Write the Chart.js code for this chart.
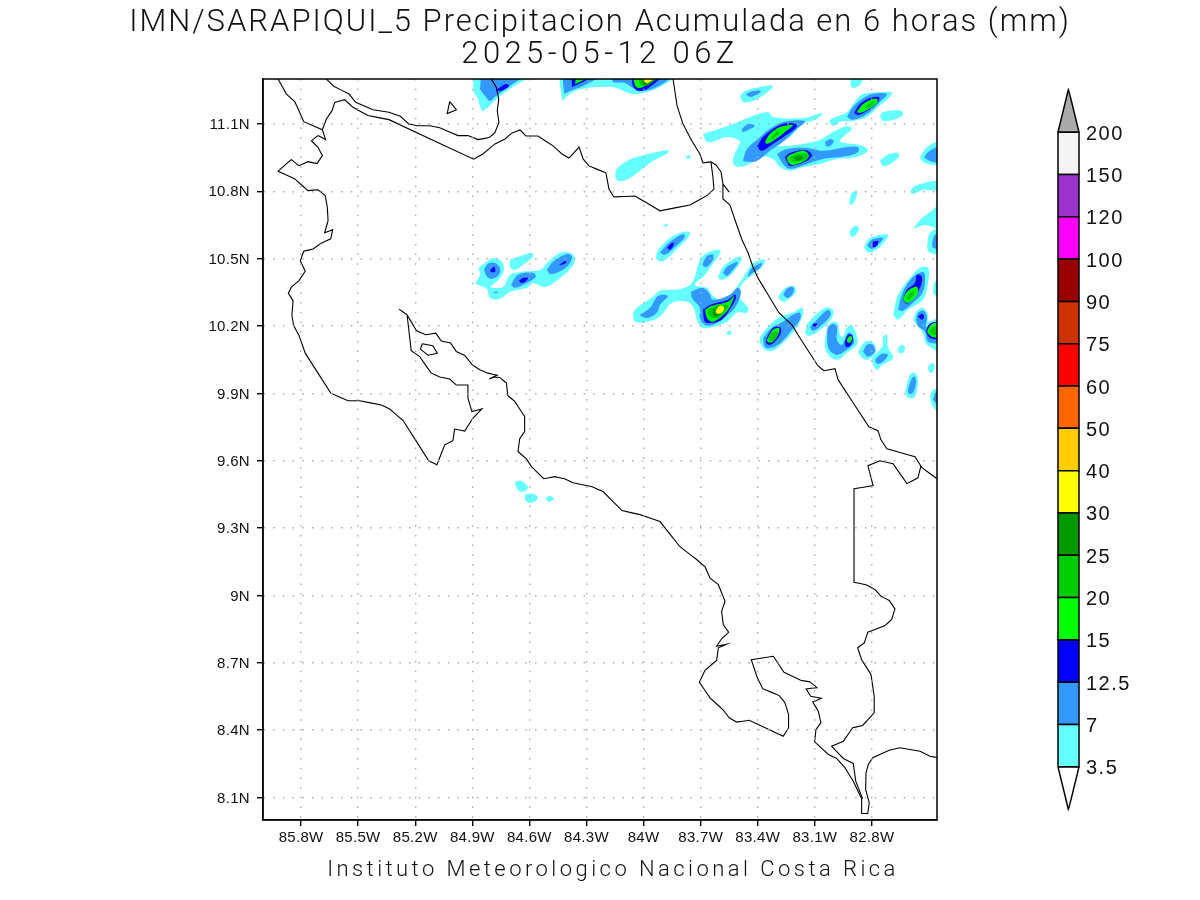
<!DOCTYPE html>
<html>
<head>
<meta charset="utf-8">
<title>IMN/SARAPIQUI_5</title>
<script src="https://cdn.jsdelivr.net/npm/chart.js@4/dist/chart.umd.min.js"></script>
<style>
  html, body { margin: 0; padding: 0; background: #fff; }
  #page { position: relative; width: 1200px; height: 900px; overflow: hidden; }
  canvas { position: absolute; }
  .label { position: absolute; left: 0; width: 1200px; text-align: center; white-space: pre; color: #111;
           font-family: Roboto, "Liberation Sans", sans-serif; font-weight: 300; }
  #title1 { top: 2px; font-size: 31px; letter-spacing: 2px; }
  #title2 { top: 34px; font-size: 31px; letter-spacing: 4.4px; }
  #footer { top: 856px; left: 13px; font-size: 22px; letter-spacing: 3.45px; }
</style>
</head>
<body>
<div id="page">
  <canvas id="mapChart" width="1200" height="900" style="left:0;top:0"></canvas>
  <canvas id="barChart" width="150" height="760" style="left:1000px;top:70px"></canvas>
  <div class="label" id="title1">IMN/SARAPIQUI_5 Precipitacion Acumulada en 6 horas (mm)</div>
  <div class="label" id="title2">2025-05-12 06Z</div>
  <div class="label" id="footer">Instituto Meteorologico Nacional Costa Rica</div>
</div>
<script>
// Ejes
const lonTicks = [85.8, 85.5, 85.2, 84.9, 84.6, 84.3, 84, 83.7, 83.4, 83.1, 82.8];
const latTicks = [11.1, 10.8, 10.5, 10.2, 9.9, 9.6, 9.3, 9, 8.7, 8.4, 8.1];

// Barra de colores
const barLevels = ['3.5', '7', '12.5', '15', '20', '25', '30', '40', '50', '60', '75', '90', '100', '120', '150', '200'];
const barColors = ['#66ffff', '#3399ff', '#0000ff', '#00ff00', '#00cc00', '#009900', '#ffff00', '#ffcc00',
                   '#ff6600', '#ff0000', '#cc3300', '#990000', '#ff00ff', '#9933cc', '#f5f5f5'];

// Costas y fronteras [lon W, lat N]
const pacificCoast = [[85.921,11.3],[85.877,11.233],[85.833,11.199],[85.811,11.159],[85.786,11.11],[85.688,11.074],[85.671,11.03],
  [85.711,11.048],[85.746,11.025],[85.711,10.996],[85.688,10.959],[85.716,10.923],[85.764,10.932],[85.812,10.914],[85.851,10.941],
  [85.921,10.889],[85.833,10.855],[85.764,10.803],[85.711,10.807],[85.673,10.781],[85.662,10.729],[85.658,10.669],[85.676,10.615],
  [85.634,10.629],[85.644,10.588],[85.694,10.569],[85.737,10.543],[85.786,10.533],[85.804,10.491],[85.778,10.444],[85.811,10.402],
  [85.851,10.373],[85.867,10.346],[85.842,10.313],[85.848,10.247],[85.839,10.202],[85.811,10.158],[85.778,10.079],[85.644,9.901],
  [85.553,9.867],[85.492,9.867],[85.378,9.848],[85.334,9.83],[85.264,9.779],[85.129,9.6],[85.086,9.582],[85.045,9.671],[85.002,9.689],
  [84.993,9.741],[84.94,9.732],[84.896,9.79],[84.849,9.831],[84.902,9.819],[84.923,9.879],[84.923,9.937],[84.984,9.937],[85.019,9.964],
  [85.071,9.973],[85.116,9.99],[85.177,10.064],[85.221,10.09],[85.243,10.25],[85.285,10.275],[85.243,10.25],[85.194,10.18],[85.145,10.161],
  [85.092,10.168],[85.063,10.133],[85.014,10.124],[84.984,10.086],[84.94,10.069],[84.9,10.027],[84.861,10.005],[84.818,9.99],[84.769,9.981],
  [84.812,9.964],[84.782,9.973],[84.756,9.971],[84.721,9.946],[84.713,9.89],[84.677,9.864],[84.625,9.797],[84.625,9.73],[84.651,9.698],
  [84.66,9.641],[84.616,9.608],[84.59,9.575],[84.525,9.52],[84.467,9.529],[84.415,9.52],[84.371,9.502],[84.27,9.484],[84.213,9.463],
  [84.113,9.378],[84.019,9.36],[83.914,9.329],[83.809,9.217],[83.721,9.16],[83.677,9.127],[83.651,9.078],[83.607,9.048],[83.572,8.974],
  [83.59,8.929],[83.581,8.87],[83.553,8.836],[83.59,8.807],[83.616,8.774],[83.563,8.783],[83.607,8.767],[83.616,8.711],[83.677,8.667],
  [83.707,8.614],[83.651,8.544],[83.581,8.489],[83.55,8.455],[83.511,8.436],[83.445,8.444],[83.266,8.373],[83.238,8.411],[83.238,8.47],
  [83.257,8.522],[83.287,8.554],[83.374,8.585],[83.402,8.633],[83.434,8.714],[83.318,8.729],[83.262,8.658],[83.174,8.622],[83.125,8.615],
  [83.087,8.589],[83.146,8.584],[83.122,8.551],[83.066,8.542],[83.111,8.525],[83.082,8.485],[83.068,8.433],[83.094,8.403],[83.101,8.348],
  [83.029,8.292],[82.985,8.274],[82.942,8.233],[82.898,8.173],[82.854,8.095],[82.854,8.029],[82.822,8.029],[82.814,8.077],[82.833,8.136],
  [82.831,8.21],[82.819,8.247],[82.796,8.277],[82.709,8.311],[82.653,8.322],[82.547,8.306],[82.495,8.284],[82.458,8.278]];
const panamaBorder = [[82.849,8.095],[82.885,8.173],[82.898,8.252],[82.95,8.274],[83.012,8.329],[82.95,8.351],[82.901,8.411],[82.849,8.421],
  [82.788,8.477],[82.788,8.551],[82.805,8.648],[82.854,8.714],[82.875,8.767],[82.84,8.789],[82.822,8.836],[82.731,8.866],[82.696,8.893],
  [82.679,8.94],[82.709,8.978],[82.752,8.996],[82.784,9.026],[82.828,9.047],[82.894,9.059],[82.894,9.475],[82.794,9.489],[82.821,9.578],
  [82.758,9.6],[82.689,9.587],[82.616,9.498],[82.558,9.524],[82.542,9.578]];
const caribbeanCoast = [[83.845,11.3],[83.824,11.18],[83.793,11.1],[83.746,11.024],[83.704,10.966],[83.688,10.926],[83.646,10.931],[83.619,10.917],
  [83.593,10.886],[83.583,10.833],[83.551,10.797],[83.583,10.833],[83.583,10.766],[83.546,10.739],[83.52,10.673],[83.483,10.584],[83.451,10.526],
  [83.425,10.463],[83.399,10.414],[83.352,10.348],[83.289,10.259],[83.22,10.205],[83.189,10.161],[83.084,10.023],[83.052,10.001],[82.994,10.01],
  [82.978,9.961],[82.816,9.751],[82.768,9.734],[82.753,9.694],[82.721,9.653],[82.574,9.618],[82.537,9.569],[82.458,9.52]];
const northBorder = [[83.646,10.931],[83.635,10.859],[83.63,10.81],[83.662,10.784],[83.756,10.739],[83.914,10.713],[83.993,10.753],[84.045,10.779],
  [84.156,10.775],[84.182,10.81],[84.198,10.882],[84.287,10.913],[84.318,10.944],[84.339,10.997],[84.392,10.948],[84.429,10.966],[84.476,11.002],
  [84.555,11.046],[84.618,11.046],[84.649,11.073],[84.691,11.06],[84.728,11.033],[84.781,11.011],[84.844,10.966],[84.893,10.943],[85.338,11.119],
  [85.448,11.137],[85.527,11.174],[85.571,11.208],[85.623,11.196],[85.637,11.159],[85.667,11.122],[85.688,11.074]];
const lakeShore = [[85.667,11.3],[85.628,11.268],[85.548,11.233],[85.513,11.196],[85.422,11.163],[85.338,11.152],[85.278,11.134],[85.234,11.1],
  [85.191,11.092],[85.124,11.092],[85.071,11.083],[84.975,11.048],[84.923,11.048],[84.87,11.03],[84.812,11.039],[84.782,11.06],[84.76,11.107],
  [84.769,11.159],[84.761,11.211],[84.774,11.263],[84.8,11.3]];
const lakeIsland = [[85.019,11.199],[84.984,11.163],[85.032,11.146],[85.019,11.199]];
const gulfIsland = [[85.163,10.121],[85.107,10.112],[85.084,10.079],[85.133,10.07],[85.173,10.097],[85.163,10.121]];
const coastLines = [pacificCoast, panamaBorder, caribbeanCoast, northBorder, lakeShore, lakeIsland, gulfIsland];

// Contornos de precipitacion por nivel [lon W, lat N]
const contour35 = [
  [[84.896,11.247],[84.881,11.31],[84.607,11.31],[84.67,11.273],[84.755,11.224],[84.844,11.158],[84.86,11.18],[84.87,11.211]],
  [[84.429,11.202],[84.423,11.31],[83.845,11.31],[83.914,11.264],[83.982,11.242],[84.056,11.233],[84.161,11.264],[84.229,11.264],[84.297,11.26],[84.371,11.242]],
  [[84.15,10.868],[84.14,10.9],[84.087,10.935],[84.019,10.957],[83.872,10.984],[83.872,10.971],[83.951,10.935],[84.019,10.891],[84.087,10.851],[84.134,10.846]],
  [[83.777,10.957],[83.756,10.962],[83.756,10.948],[83.772,10.944]],
  [[83.493,11.224],[83.467,11.247],[83.362,11.269],[83.32,11.269],[83.362,11.233],[83.425,11.202],[83.478,11.198]],
  [[83.688,11.055],[83.635,11.069],[83.53,11.1],[83.441,11.131],[83.346,11.153],[83.32,11.131],[83.162,11.126],[83.062,11.149],[83.089,11.122],[83.162,11.1],[83.231,11.042],[83.299,11.002],
   [83.089,11.024],[83.005,11.064],[82.931,11.091],[82.905,11.078],[82.952,11.042],[82.968,11.02],[82.847,11.002],[82.821,10.98],[82.879,10.953],[82.984,10.944],[83.073,10.922],[83.162,10.908],
   [83.231,10.891],[83.283,10.908],[83.32,10.944],[83.378,10.953],[83.467,10.913],[83.52,10.913],[83.53,10.944],[83.504,10.997],[83.493,11.024],[83.562,11.042],[83.625,11.024],[83.667,11.02]],
  [[83.026,11.113],[83.005,11.126],[82.931,11.153],[82.879,11.211],[82.847,11.233],[82.695,11.242],[82.705,11.22],[82.768,11.175],[82.826,11.131],[82.9,11.113],[82.968,11.109],[83.005,11.091]],
  [[82.758,11.135],[82.742,11.153],[82.642,11.158],[82.642,11.135],[82.689,11.118],[82.742,11.113]],
  [[82.915,11.278],[82.9,11.31],[82.847,11.31],[82.863,11.273],[82.9,11.26]],
  [[82.758,10.935],[82.721,10.962],[82.663,10.971],[82.658,10.953],[82.705,10.922],[82.742,10.913]],
  [[82.547,10.953],[82.511,10.997],[82.44,11.02],[82.44,10.922],[82.505,10.922],[82.537,10.935]],
  [[82.6,10.797],[82.574,10.824],[82.44,10.846],[82.44,10.806],[82.532,10.806],[82.584,10.788]],
  [[82.92,10.744],[82.905,10.793],[82.879,10.797],[82.884,10.77],[82.905,10.739]],
  [[83.903,10.641],[83.877,10.655],[83.872,10.646]],
  [[83.935,10.503],[83.924,10.539],[83.861,10.592],[83.793,10.619],[83.756,10.615],[83.767,10.592],[83.819,10.548],[83.877,10.499],[83.914,10.486]],
  [[84.056,10.259],[84.035,10.281],[83.951,10.33],[83.914,10.357],[83.809,10.365],[83.746,10.392],[83.704,10.495],[83.667,10.526],[83.598,10.539],[83.609,10.508],[83.641,10.472],[83.677,10.428],
   [83.73,10.383],[83.667,10.37],[83.641,10.339],[83.598,10.317],[83.546,10.339],[83.478,10.414],[83.425,10.481],[83.362,10.495],[83.378,10.463],[83.425,10.428],[83.478,10.392],[83.504,10.339],
   [83.451,10.281],[83.457,10.259],[83.509,10.259],[83.562,10.219],[83.635,10.196],[83.693,10.192],[83.714,10.214],[83.74,10.285],[83.772,10.308],[83.851,10.303],[83.914,10.241],[83.982,10.219],[84.045,10.219]],
  [[83.609,10.419],[83.583,10.463],[83.504,10.508],[83.483,10.503],[83.509,10.459],[83.562,10.414],[83.598,10.406]],
  [[83.562,10.174],[83.541,10.179],[83.541,10.161],[83.562,10.161]],
  [[82.92,10.619],[82.889,10.646],[82.868,10.637],[82.884,10.606],[82.905,10.597]],
  [[82.842,10.552],[82.81,10.592],[82.716,10.606],[82.747,10.561],[82.8,10.53],[82.826,10.53]],
  [[83.294,10.325],[83.267,10.361],[83.215,10.379],[83.199,10.352],[83.241,10.317],[83.267,10.308]],
  [[83.388,10.152],[83.346,10.196],[83.283,10.241],[83.215,10.259],[83.168,10.281],[83.162,10.25],[83.204,10.183],[83.267,10.125],[83.32,10.09],[83.362,10.094],[83.388,10.125]],
  [[83.152,10.17],[83.136,10.214],[83.047,10.281],[83.005,10.272],[83.01,10.236],[83.084,10.174],[83.136,10.156]],
  [[83.047,10.139],[83.031,10.196],[83.005,10.219],[82.978,10.21],[82.968,10.161],[82.952,10.152],[82.931,10.192],[82.905,10.205],[82.879,10.152],[82.879,10.116],[82.931,10.081],[82.978,10.05],[83.02,10.063],[83.047,10.103]],
  [[82.873,10.085],[82.836,10.13],[82.795,10.125],[82.779,10.085],[82.821,10.05],[82.852,10.058]],
  [[82.8,10.058],[82.768,10.085],[82.742,10.116],[82.742,10.152],[82.721,10.161],[82.716,10.107],[82.689,10.058],[82.747,10.027],[82.773,10.005],[82.795,10.027]],
  [[82.663,10.103],[82.642,10.116],[82.626,10.103],[82.637,10.081],[82.658,10.081]],
  [[82.505,10.018],[82.484,10.036],[82.469,10.018],[82.484,9.992],[82.5,9.996]],
  [[82.626,9.907],[82.6,9.983],[82.574,9.992],[82.558,9.961],[82.574,9.885],[82.611,9.88]],
  [[82.689,10.25],[82.663,10.339],[82.6,10.414],[82.547,10.459],[82.505,10.459],[82.505,10.392],[82.532,10.317],[82.611,10.272],[82.663,10.228]],
  [[82.584,10.228],[82.563,10.268],[82.532,10.281],[82.505,10.25],[82.505,10.219],[82.44,10.236],[82.44,10.094],[82.511,10.116],[82.532,10.17],[82.558,10.196]],
  [[82.584,10.632],[82.547,10.673],[82.495,10.708],[82.44,10.739],[82.44,10.637],[82.521,10.65]],
  [[82.511,10.552],[82.495,10.615],[82.44,10.637],[82.44,10.526],[82.495,10.526]],
  [[82.479,10.352],[82.469,10.397],[82.44,10.406],[82.44,10.33],[82.474,10.339]],
  [[82.495,9.885],[82.479,9.916],[82.44,9.916],[82.44,9.814],[82.479,9.84]],
  [[82.463,9.729],[82.44,9.76],[82.44,9.702]],
  [[84.886,10.388],[84.86,10.428],[84.865,10.459],[84.833,10.481],[84.791,10.503],[84.744,10.486],[84.734,10.45],[84.755,10.414],[84.781,10.392],[84.807,10.374],[84.739,10.374],[84.702,10.428],
   [84.649,10.441],[84.544,10.45],[84.502,10.486],[84.439,10.526],[84.387,10.526],[84.36,10.503],[84.376,10.463],[84.439,10.414],[84.518,10.374],[84.581,10.392],[84.613,10.37],[84.702,10.352],
   [84.755,10.321],[84.807,10.325],[84.823,10.365],[84.87,10.383]],
  [[84.702,10.495],[84.676,10.503],[84.586,10.526],[84.581,10.508],[84.634,10.472],[84.676,10.45],[84.702,10.463]],
  [[84.676,9.507],[84.644,9.511],[84.607,9.484],[84.618,9.467],[84.649,9.462],[84.67,9.484]],
  [[84.623,9.449],[84.581,9.453],[84.555,9.435],[84.571,9.418],[84.607,9.413],[84.623,9.427]],
  [[84.513,9.435],[84.492,9.444],[84.471,9.431],[84.492,9.418],[84.508,9.422]]
];
const contour7 = [
  [[84.86,11.256],[84.844,11.31],[84.644,11.31],[84.702,11.269],[84.776,11.224],[84.807,11.202],[84.833,11.224]],
  [[84.418,11.233],[84.413,11.31],[84.24,11.31],[84.318,11.269],[84.387,11.247]],
  [[84.161,11.31],[83.861,11.31],[83.93,11.264],[84.003,11.247],[84.056,11.26],[84.098,11.282],[84.161,11.287]],
  [[83.462,11.233],[83.425,11.247],[83.383,11.247],[83.399,11.233],[83.441,11.22]],
  [[83.478,10.935],[83.457,10.988],[83.399,11.033],[83.336,11.078],[83.267,11.109],[83.152,11.113],[83.194,11.078],[83.267,11.02],[83.336,10.98],[83.404,10.935],[83.451,10.931]],
  [[83.299,10.966],[83.246,10.988],[83.141,10.993],[83.057,10.98],[82.931,10.997],[82.873,10.997],[82.873,10.975],[82.931,10.957],[83.057,10.944],[83.141,10.922],[83.231,10.9],[83.267,10.922]],
  [[83.047,11.02],[83.02,11.033],[83.0,11.024],[83.02,11.002],[83.041,11.002]],
  [[83.483,11.078],[83.451,11.1],[83.415,11.091],[83.451,11.073],[83.478,11.064]],
  [[82.931,11.131],[82.9,11.175],[82.852,11.211],[82.8,11.233],[82.721,11.233],[82.758,11.198],[82.826,11.144],[82.9,11.118]],
  [[82.526,10.953],[82.495,10.98],[82.44,10.997],[82.44,10.931],[82.495,10.935]],
  [[83.914,10.526],[83.861,10.575],[83.793,10.61],[83.782,10.597],[83.835,10.552],[83.888,10.517]],
  [[83.583,10.437],[83.562,10.463],[83.509,10.486],[83.504,10.481],[83.53,10.45],[83.562,10.423]],
  [[83.688,10.481],[83.667,10.512],[83.635,10.517],[83.635,10.495],[83.667,10.463],[83.688,10.468]],
  [[84.019,10.25],[83.966,10.281],[83.924,10.334],[83.872,10.334],[83.914,10.294],[83.93,10.259],[83.977,10.236],[84.008,10.241]],
  [[83.751,10.352],[83.693,10.37],[83.656,10.348],[83.635,10.317],[83.546,10.339],[83.504,10.37],[83.488,10.348],[83.52,10.281],[83.572,10.241],[83.635,10.205],[83.677,10.205],[83.704,10.236],[83.704,10.281],[83.746,10.325]],
  [[83.451,10.428],[83.43,10.459],[83.378,10.481],[83.388,10.459],[83.425,10.437],[83.451,10.419]],
  [[82.826,10.557],[82.8,10.584],[82.742,10.592],[82.768,10.561],[82.8,10.543]],
  [[83.267,10.339],[83.241,10.37],[83.21,10.37],[83.22,10.339],[83.246,10.325]],
  [[83.372,10.147],[83.325,10.192],[83.267,10.219],[83.215,10.25],[83.178,10.259],[83.178,10.228],[83.22,10.183],[83.273,10.13],[83.325,10.103],[83.362,10.107]],
  [[83.125,10.196],[83.089,10.228],[83.031,10.272],[83.016,10.25],[83.063,10.205],[83.11,10.179]],
  [[83.036,10.147],[83.031,10.192],[83.005,10.21],[82.984,10.196],[82.984,10.139],[82.958,10.116],[82.931,10.161],[82.915,10.17],[82.894,10.139],[82.9,10.116],[82.947,10.085],[82.978,10.072],[83.01,10.081],[83.031,10.107]],
  [[82.847,10.085],[82.826,10.116],[82.795,10.116],[82.784,10.085],[82.821,10.063]],
  [[82.784,10.05],[82.747,10.076],[82.716,10.072],[82.742,10.041],[82.773,10.032]],
  [[82.611,9.916],[82.589,9.969],[82.574,9.974],[82.568,9.947],[82.584,9.903],[82.605,9.898]],
  [[82.663,10.272],[82.637,10.352],[82.584,10.419],[82.537,10.441],[82.521,10.428],[82.532,10.352],[82.584,10.303],[82.637,10.268]],
  [[82.568,10.228],[82.558,10.259],[82.526,10.268],[82.511,10.237],[82.516,10.196],[82.484,10.214],[82.44,10.219],[82.44,10.13],[82.505,10.13],[82.521,10.174],[82.558,10.201]],
  [[82.484,10.57],[82.469,10.606],[82.44,10.606],[82.44,10.548],[82.479,10.548]],
  [[82.479,9.872],[82.463,9.907],[82.44,9.907],[82.44,9.836]],
  [[84.839,10.45],[84.818,10.477],[84.781,10.481],[84.755,10.459],[84.76,10.428],[84.797,10.41],[84.823,10.419]],
  [[84.697,10.383],[84.66,10.428],[84.581,10.437],[84.566,10.419],[84.613,10.392],[84.676,10.37]],
  [[84.508,10.45],[84.476,10.486],[84.402,10.521],[84.376,10.508],[84.397,10.468],[84.455,10.437],[84.492,10.432]],
  [[84.786,10.352],[84.765,10.352],[84.765,10.348],[84.786,10.348]]
];
const contour125 = [
  [[84.776,11.251],[84.723,11.278],[84.707,11.269],[84.749,11.247]],
  [[84.376,11.264],[84.371,11.31],[84.261,11.31],[84.318,11.287]],
  [[84.061,11.31],[83.914,11.31],[83.982,11.256],[84.029,11.247],[84.056,11.269]],
  [[83.404,10.997],[83.372,11.042],[83.294,11.091],[83.231,11.104],[83.194,11.091],[83.257,11.046],[83.336,11.002],[83.378,10.98]],
  [[83.257,10.953],[83.231,10.971],[83.152,10.984],[83.115,10.962],[83.152,10.931],[83.231,10.913],[83.246,10.931]],
  [[82.894,11.149],[82.863,11.189],[82.81,11.215],[82.763,11.22],[82.768,11.198],[82.826,11.158],[82.873,11.14]],
  [[83.877,10.548],[83.851,10.57],[83.84,10.566],[83.861,10.539]],
  [[83.688,10.272],[83.651,10.294],[83.556,10.317],[83.52,10.339],[83.514,10.325],[83.546,10.276],[83.588,10.228],[83.641,10.214],[83.677,10.219]],
  [[82.795,10.575],[82.768,10.579],[82.773,10.557],[82.795,10.552]],
  [[83.352,10.147],[83.32,10.192],[83.283,10.196],[83.278,10.17],[83.31,10.13],[83.336,10.116],[83.357,10.125]],
  [[83.11,10.21],[83.089,10.21],[83.089,10.2],[83.11,10.2]],
  [[82.942,10.13],[82.926,10.161],[82.905,10.161],[82.9,10.139],[82.915,10.112],[82.936,10.107]],
  [[82.637,10.317],[82.616,10.361],[82.574,10.392],[82.563,10.428],[82.537,10.419],[82.547,10.37],[82.584,10.325],[82.616,10.299]],
  [[82.558,10.241],[82.537,10.254],[82.526,10.241],[82.537,10.228]],
  [[82.516,10.174],[82.495,10.21],[82.44,10.214],[82.44,10.147],[82.495,10.147]],
  [[84.807,10.446],[84.791,10.463],[84.781,10.459],[84.781,10.441],[84.802,10.441]],
  [[84.655,10.401],[84.634,10.414],[84.607,10.414],[84.623,10.397],[84.644,10.392]],
  [[84.444,10.472],[84.413,10.49],[84.408,10.481],[84.434,10.472]]
];
const contour15 = [
  [[84.36,11.278],[84.35,11.31],[84.292,11.31],[84.334,11.287]],
  [[84.056,11.31],[83.924,11.31],[83.993,11.269],[84.029,11.26],[84.045,11.273]],
  [[83.362,11.02],[83.336,11.055],[83.283,11.086],[83.215,11.095],[83.257,11.064],[83.32,11.024],[83.352,11.011]],
  [[83.246,10.953],[83.22,10.966],[83.157,10.98],[83.131,10.957],[83.162,10.931],[83.22,10.917],[83.241,10.931]],
  [[82.879,11.153],[82.852,11.184],[82.81,11.207],[82.773,11.211],[82.773,11.193],[82.826,11.162],[82.863,11.149]],
  [[83.677,10.272],[83.641,10.29],[83.556,10.308],[83.525,10.334],[83.53,10.317],[83.556,10.272],[83.598,10.237],[83.641,10.219],[83.667,10.237]],
  [[83.346,10.147],[83.32,10.183],[83.289,10.192],[83.289,10.17],[83.315,10.134],[83.336,10.125],[83.352,10.134]],
  [[82.931,10.139],[82.921,10.152],[82.905,10.152],[82.91,10.13],[82.926,10.125]],
  [[82.637,10.321],[82.611,10.357],[82.563,10.374],[82.563,10.339],[82.6,10.308],[82.621,10.303]],
  [[82.511,10.174],[82.49,10.205],[82.44,10.214],[82.44,10.152],[82.484,10.152]]
];
const contour20 = [
  [[84.029,11.31],[83.93,11.31],[83.982,11.278],[84.014,11.269]],
  [[83.336,11.033],[83.294,11.069],[83.283,11.064],[83.325,11.029]],
  [[83.231,10.953],[83.194,10.966],[83.141,10.966],[83.141,10.944],[83.194,10.931],[83.22,10.931]],
  [[82.836,11.175],[82.81,11.193],[82.784,11.198],[82.8,11.18],[82.826,11.167]],
  [[83.662,10.272],[83.625,10.29],[83.556,10.294],[83.572,10.263],[83.609,10.237],[83.641,10.237],[83.662,10.25]],
  [[83.341,10.152],[83.32,10.174],[83.294,10.174],[83.299,10.152],[83.32,10.134],[83.341,10.134]],
  [[82.621,10.33],[82.6,10.348],[82.579,10.357],[82.584,10.334],[82.611,10.317]],
  [[82.5,10.174],[82.479,10.196],[82.44,10.2],[82.44,10.165],[82.479,10.161]]
];
const contour25 = [
  [[84.014,11.31],[83.935,11.31],[83.975,11.272],[84.0,11.275]],
  [[83.21,10.953],[83.178,10.957],[83.162,10.948],[83.194,10.935]],
  [[83.635,10.276],[83.609,10.285],[83.572,10.285],[83.588,10.259],[83.614,10.241],[83.635,10.25]]
];
const contour30 = [
  [[84.003,11.31],[83.94,11.31],[83.977,11.282],[83.993,11.287]],
  [[83.619,10.272],[83.598,10.29],[83.577,10.285],[83.583,10.263],[83.604,10.254],[83.619,10.259]]
];
const contourLevels = [contour35, contour7, contour125, contour15, contour20, contour25, contour30];

// Convierte lista de pares a puntos de Chart.js
function toPoints(pairs) {
  return pairs.map(p => ({ x: p[0], y: p[1] }));
}

// Contornos rellenos, de menor a mayor nivel
const mapDatasets = [];
contourLevels.forEach((blobs, i) => {
  blobs.forEach(blob => {
    mapDatasets.push({
      data: toPoints(blob.concat([blob[0]])),
      showLine: true, fill: 'shape', backgroundColor: barColors[i],
      borderWidth: 0, pointRadius: 0, tension: 0.35
    });
  });
});
coastLines.forEach(line => {
  mapDatasets.push({
    data: toPoints(line), showLine: true, fill: false, borderColor: '#000',
    borderWidth: 1.1, pointRadius: 0, tension: 0.001
  });
});

// Chart.js dibuja el primer dataset encima, por eso se invierte
mapDatasets.reverse();

const mapFrame = {
  id: 'mapFrame',
  beforeDraw(chart) { chart.ctx.letterSpacing = '0.3px'; },
  afterDraw(chart) {
    const a = chart.chartArea, ctx = chart.ctx;
    ctx.save();
    ctx.strokeStyle = '#000';
    ctx.lineWidth = 1.5;
    ctx.strokeRect(a.left, a.top, a.right - a.left, a.bottom - a.top);
    ctx.restore();
  }
};

new Chart(document.getElementById('mapChart'), {
  type: 'scatter',
  data: { datasets: mapDatasets },
  plugins: [mapFrame],
  options: {
    responsive: false, animation: false, events: [], devicePixelRatio: 1,
    layout: { padding: { top: 79, right: 263 } },
    plugins: { legend: { display: false }, tooltip: { enabled: false }, title: { display: false } },
    scales: {
      x: {
        type: 'linear', reverse: true, min: 82.458, max: 86,
        afterBuildTicks(s) { s.ticks = lonTicks.map(v => ({ value: v })); },
        afterFit(s) { s.height = 80; },
        ticks: { autoSkip: false, maxRotation: 0, padding: 3, color: '#111', font: { family: 'Liberation Sans', size: 15 },
                 callback: v => v + 'W' },
        grid: { color: '#aaa', tickColor: '#000', tickLength: 6, z: 1, lineWidth: 1.4 },
        border: { color: '#000', width: 1.5, dash: [1.5, 8.2], z: 1 }
      },
      y: {
        type: 'linear', min: 8, max: 11.3,
        afterBuildTicks(s) { s.ticks = latTicks.map(v => ({ value: v })); },
        afterFit(s) { s.width = 263; },
        ticks: { autoSkip: false, padding: 7, labelOffset: 1, color: '#111', font: { family: 'Liberation Sans', size: 15 },
                 callback: v => v + 'N' },
        grid: { color: '#aaa', tickColor: '#000', tickLength: 6, z: 1, lineWidth: 1.4 },
        border: { color: '#000', width: 1.5, dash: [1.5, 8.2], z: 1 }
      }
    }
  }
});

// Barra de colores como cajas sobre escala de indices
const barDatasets = barColors.map((color, i) => ({
  data: toPoints([[0, i], [1, i], [1, i + 1], [0, i + 1], [0, i]]),
  showLine: true, fill: 'shape', backgroundColor: color, borderColor: '#000',
  borderWidth: 1.5, pointRadius: 0, tension: 0.001, clip: false
}));
barDatasets.push({
  data: toPoints([[0, 15], [1, 15], [0.5, 16.02], [0, 15]]),
  showLine: true, fill: 'shape', backgroundColor: '#aaaaaa', borderColor: '#000',
  borderWidth: 1.5, pointRadius: 0, tension: 0.001, clip: false
});
barDatasets.push({
  data: toPoints([[0, 0], [1, 0], [0.5, -1.02], [0, 0]]),
  showLine: true, fill: 'shape', backgroundColor: '#ffffff', borderColor: '#000',
  borderWidth: 1.5, pointRadius: 0, tension: 0.001, clip: false
});

new Chart(document.getElementById('barChart'), {
  type: 'scatter',
  data: { datasets: barDatasets },
  plugins: [{ id: 'barSpacing', beforeDraw(chart) { chart.ctx.letterSpacing = '1.5px'; } }],
  options: {
    responsive: false, animation: false, events: [], devicePixelRatio: 1,
    layout: { padding: { left: 58, top: 19, bottom: 20 } },
    plugins: { legend: { display: false }, tooltip: { enabled: false } },
    scales: {
      x: { type: 'linear', min: 0, max: 1, display: false },
      y: {
        type: 'linear', position: 'right', min: -1.02, max: 16.02,
        afterBuildTicks(s) { s.ticks = barLevels.map((_, i) => ({ value: i })); },
        afterFit(s) { s.width = 71; },
        ticks: { autoSkip: false, padding: -1, labelOffset: 2, color: '#111', font: { family: 'Liberation Sans', size: 20 },
                 callback: v => barLevels[v] },
        grid: { display: false },
        border: { display: false }
      }
    }
  }
});
</script>
</body>
</html>
